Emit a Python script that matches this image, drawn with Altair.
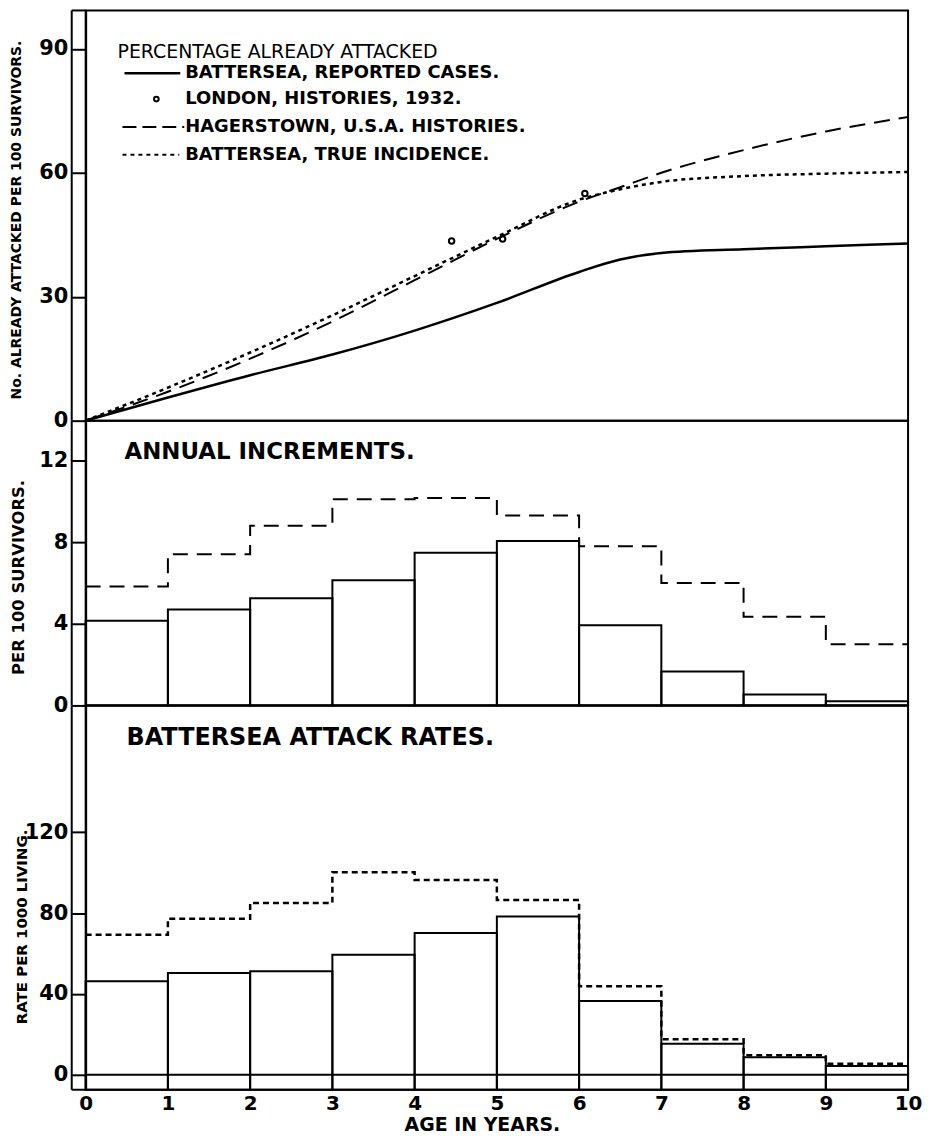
import altair as alt
import pandas as pd

# ---------------- data ----------------
curve_age = [0, 1, 2, 3, 4, 5, 6, 6.5, 7, 8, 9, 10]
battersea_reported_cum = [0, 5.6, 11.0, 16.0, 21.8, 28.5, 36.0, 39.0, 40.6, 41.5, 42.2, 42.9]
hagerstown_cum = [0, 7.0, 15.0, 24.0, 34.0, 44.0, 53.0, 56.5, 60.0, 65.5, 70.0, 73.5]
battersea_true_cum = [0, 8.0, 16.5, 25.5, 35.0, 44.5, 53.5, 56.0, 57.8, 59.2, 59.8, 60.2]
london_age = [4.45, 5.07, 6.07]
london_pct = [43.5, 44.0, 55.0]

year_start = [0, 1, 2, 3, 4, 5, 6, 7, 8, 9]
incr_reported = [4.15, 4.7, 5.25, 6.13, 7.48, 8.05, 3.93, 1.66, 0.54, 0.2]
incr_hagerstown = [5.82, 7.4, 8.8, 10.1, 10.16, 9.3, 7.8, 6.0, 4.34, 3.0]
rate_reported = [46.3, 50.4, 51.2, 59.4, 70.1, 78.3, 36.5, 15.3, 8.7, 4.3]
rate_true = [69.3, 77.2, 85.0, 100.2, 96.4, 86.5, 43.8, 17.6, 9.7, 5.5]

x_ticks = [0, 1, 2, 3, 4, 5, 6, 7, 8, 9, 10]
y1_ticks = [0, 30, 60, 90]
y2_ticks = [0, 4, 8, 12]
y3_ticks = [0, 40, 80, 120]

legend_title = "PERCENTAGE ALREADY ATTACKED"
legend_labels = ["BATTERSEA, REPORTED CASES.", "LONDON, HISTORIES, 1932.",
                 "HAGERSTOWN, U.S.A. HISTORIES.", "BATTERSEA, TRUE INCIDENCE."]
panel2_title = "ANNUAL INCREMENTS."
panel3_title = "BATTERSEA ATTACK RATES."
y1_title = "No. ALREADY ATTACKED PER 100 SURVIVORS."
y2_title = "PER 100 SURVIVORS."
y3_title = "RATE PER 1000 LIVING."
x_title = "AGE IN YEARS."

# ---------------- layout ----------------
FONT = "DejaVu Sans"
W = 826
H1, H2, H3 = 412, 286, 386
TICK = 14

xs = alt.Scale(domain=[0, 10], nice=False, zero=False)
ys1 = alt.Scale(domain=[0, 99.3], nice=False)
ys2 = alt.Scale(domain=[0, 13.95], nice=False)
ys3 = alt.Scale(domain=[-7.4, 182.7], nice=False)
VIEW = alt.ViewBackground(stroke="black", strokeWidth=2)


def yaxis(values, title, tx, ty, tsize):
    return alt.Axis(values=values, tickSize=TICK, tickWidth=2, tickColor="black",
                    domainColor="black", domainWidth=2, grid=False,
                    labelFont=FONT, labelFontWeight="bold", labelFontSize=21,
                    labelColor="black", labelPadding=4, labelOverlap=False,
                    title=title, titleFont=FONT, titleFontWeight="bold",
                    titleFontSize=tsize, titleColor="black", titleAngle=270,
                    titleX=tx, titleY=ty, titleAlign="center", titleBaseline="middle")


ax1 = yaxis(y1_ticks, y1_title, -69, 210, 14)
ax2 = yaxis(y2_ticks, y2_title, -67, 157, 16.5)
ax3 = yaxis(y3_ticks, y3_title, -64, 222, 15)

dummy = pd.DataFrame({"d": [0]})


def frame_left(H, top_ext=False, bottom_ext=False):
    layers = [alt.Chart(dummy).mark_rule(color="black", strokeWidth=2).encode(
        x=alt.value(-TICK), y=alt.value(0), y2=alt.value(H))]
    if top_ext:
        layers.append(alt.Chart(dummy).mark_rule(color="black", strokeWidth=2).encode(
            x=alt.value(-TICK), x2=alt.value(0), y=alt.value(0)))
    if bottom_ext:
        layers.append(alt.Chart(dummy).mark_rule(color="black", strokeWidth=2).encode(
            x=alt.value(-TICK), x2=alt.value(0), y=alt.value(H)))
    return layers


# ---------------- top panel ----------------
cum = pd.DataFrame({"age": curve_age, "rep": battersea_reported_cum,
                    "hag": hagerstown_cum, "tru": battersea_true_cum})
lon = pd.DataFrame({"age": london_age, "pct": london_pct})


def cum_line(field, dash, sw):
    kw = dict(color="black", strokeWidth=sw, interpolate="monotone")
    if dash:
        kw["strokeDash"] = dash
    return alt.Chart(cum).mark_line(**kw).encode(
        x=alt.X("age:Q", scale=xs, axis=None),
        y=alt.Y(f"{field}:Q", scale=ys1, axis=ax1, title=y1_title))


top_layers = [
    cum_line("rep", None, 2.5),
    cum_line("hag", [16, 9], 2),
    cum_line("tru", [4, 4], 2.5),
    alt.Chart(lon).mark_point(shape="circle", size=30, filled=False, color="black",
                              opacity=1, strokeWidth=2).encode(
        x=alt.X("age:Q", scale=xs, axis=None),
        y=alt.Y("pct:Q", scale=ys1, axis=ax1, title=y1_title)),
    alt.Chart(pd.DataFrame({"t": [legend_title]})).mark_text(
        font=FONT, fontSize=19, color="black", align="left", baseline="middle").encode(
        x=alt.value(32), y=alt.value(42), text="t:N"),
]
entry_y = [63, 89, 117, 145]
for lab, py in zip(legend_labels, entry_y):
    top_layers.append(alt.Chart(pd.DataFrame({"t": [lab]})).mark_text(
        font=FONT, fontSize=18, fontWeight="bold", color="black", align="left",
        baseline="middle").encode(x=alt.value(100), y=alt.value(py), text="t:N"))
top_layers.append(alt.Chart(dummy).mark_rule(color="black", strokeWidth=2.5).encode(
    x=alt.value(39), x2=alt.value(95), y=alt.value(entry_y[0])))
top_layers.append(alt.Chart(dummy).mark_point(shape="circle", size=22, filled=False,
                                              color="black", opacity=1,
                                              strokeWidth=2).encode(
    x=alt.value(71), y=alt.value(entry_y[1])))
top_layers.append(alt.Chart(dummy).mark_rule(color="black", strokeWidth=2,
                                             strokeDash=[14, 6]).encode(
    x=alt.value(37), x2=alt.value(99), y=alt.value(entry_y[2])))
top_layers.append(alt.Chart(dummy).mark_rule(color="black", strokeWidth=2,
                                             strokeDash=[4, 4]).encode(
    x=alt.value(37), x2=alt.value(94), y=alt.value(entry_y[3])))
top_layers += frame_left(H1, top_ext=True)

top = alt.layer(*top_layers).properties(width=W, height=H1, view=VIEW)

# ---------------- middle panel ----------------
inc = pd.DataFrame({"s": year_start, "e": [v + 1 for v in year_start],
                    "rep": incr_reported, "hag": incr_hagerstown})
inc_step = pd.DataFrame({"x": year_start + [year_start[-1] + 1],
                         "hag": incr_hagerstown + [incr_hagerstown[-1]]})

mid_layers = [
    alt.Chart(inc).mark_rect(fill="white", fillOpacity=0, stroke="black",
                             strokeWidth=2).encode(
        x=alt.X("s:Q", scale=xs, axis=None), x2="e:Q",
        y=alt.Y("rep:Q", scale=ys2, axis=ax2, title=y2_title), y2=alt.value(H2)),
    alt.Chart(inc_step).mark_line(color="black", strokeWidth=2, strokeDash=[15, 9],
                                  interpolate="step-after").encode(
        x=alt.X("x:Q", scale=xs, axis=None),
        y=alt.Y("hag:Q", scale=ys2, axis=ax2, title=y2_title)),
    alt.Chart(pd.DataFrame({"t": [panel2_title]})).mark_text(
        font=FONT, fontSize=23, fontWeight="bold", color="black", align="left",
        baseline="middle").encode(x=alt.value(39), y=alt.value(32), text="t:N"),
] + frame_left(H2)

mid = alt.layer(*mid_layers).properties(width=W, height=H2, view=VIEW)

# ---------------- bottom panel ----------------
rt = pd.DataFrame({"s": year_start, "e": [v + 1 for v in year_start],
                   "rep": rate_reported, "tru": rate_true})
rt_step = pd.DataFrame({"x": year_start + [year_start[-1] + 1],
                        "tru": rate_true + [rate_true[-1]]})
xaxis = alt.Axis(values=x_ticks, ticks=False, domain=False, grid=False,
                 labelFont=FONT, labelFontWeight="bold", labelFontSize=20,
                 labelColor="black", labelPadding=4, labelFlush=False,
                 title=x_title, titleFont=FONT, titleFontWeight="bold",
                 titleFontSize=19, titleColor="black", titlePadding=2, titleX=398)

bot_layers = [
    alt.Chart(rt).mark_rect(fill="white", fillOpacity=0, stroke="black",
                            strokeWidth=2).encode(
        x=alt.X("s:Q", scale=xs, axis=xaxis, title=x_title), x2="e:Q",
        y=alt.Y("rep:Q", scale=ys3, axis=ax3, title=y3_title), y2=alt.value(H3)),
    alt.Chart(rt_step).mark_line(color="black", strokeWidth=2.5, strokeDash=[6, 4],
                                 interpolate="step-after").encode(
        x=alt.X("x:Q", scale=xs, axis=xaxis, title=x_title),
        y=alt.Y("tru:Q", scale=ys3, axis=ax3, title=y3_title)),
    alt.Chart(pd.DataFrame({"z": [0]})).mark_rule(color="black", strokeWidth=2).encode(
        y=alt.Y("z:Q", scale=ys3, axis=ax3, title=y3_title),
        x=alt.value(0), x2=alt.value(W)),
    alt.Chart(pd.DataFrame({"t": [panel3_title]})).mark_text(
        font=FONT, fontSize=24, fontWeight="bold", color="black", align="left",
        baseline="middle").encode(x=alt.value(41), y=alt.value(33), text="t:N"),
] + frame_left(H3, bottom_ext=True)

bot = alt.layer(*bot_layers).properties(width=W, height=H3, view=VIEW)

chart = alt.vconcat(top, mid, bot, spacing=0).properties(
    bounds="flush", background="white",
    padding={"left": 0, "top": -2, "right": 0, "bottom": 0}
).configure_view(stroke="black", strokeWidth=2)

chart.save("out.html", embed_options={"renderer": "svg", "actions": False})
